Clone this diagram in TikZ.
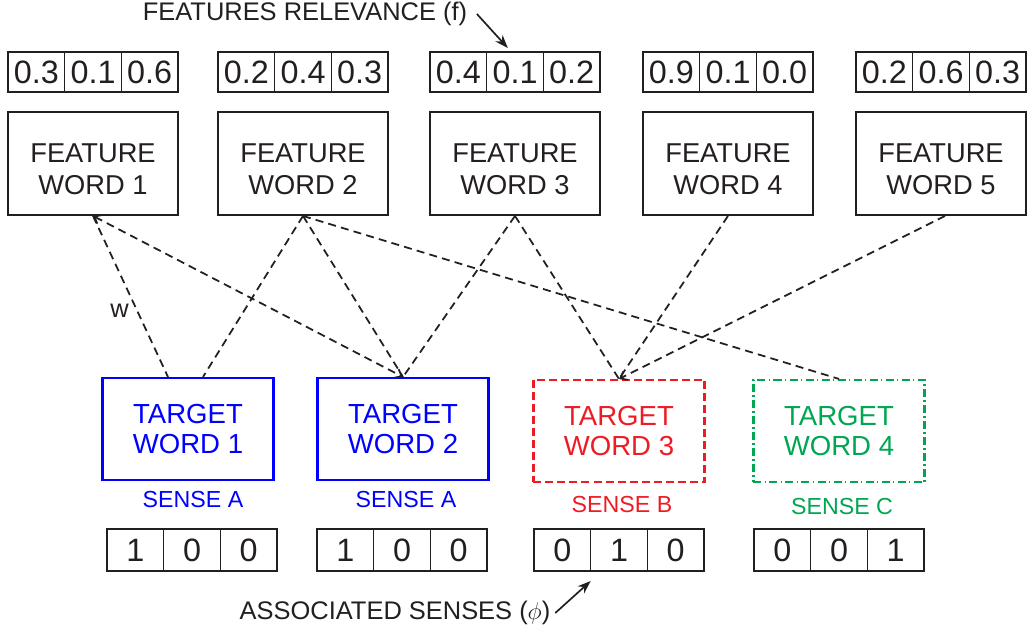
\documentclass[tikz,border=0pt]{standalone}
\usepackage{fontspec}
\setmainfont{Liberation Sans}
\usetikzlibrary{positioning,arrows.meta}
\definecolor{ink}{RGB}{35,31,32}
\definecolor{senseA}{RGB}{0,0,255}
\definecolor{senseB}{RGB}{237,28,36}
\definecolor{senseC}{RGB}{0,166,81}
\tikzset{
  wordbox/.style={draw=ink,line width=1.3pt,minimum width=4.25cm,minimum height=2.575cm,inner sep=0pt},
  wordtext/.style={text=ink,align=center,font=\fontsize{19.4}{22.5}\selectfont},
  targetbox/.style={draw,line width=1.5pt,minimum width=4.275cm,minimum height=2.55cm,inner sep=0pt,align=center,font=\fontsize{19.6}{21.8}\selectfont},
  cell/.style={draw=ink,text=ink,line width=1pt,minimum width=1.4167cm,minimum height=1cm,inner sep=0pt,outer sep=0pt,font=\fontsize{23}{25}\selectfont},
  bit/.style={cell,minimum height=1.05cm},
  sense/.style={font=\fontsize{16.5}{18}\selectfont},
  caption/.style={text=ink,font=\fontsize{18.1}{20}\selectfont},
  link/.style={ink,line width=1.25pt,dash pattern=on 0.2cm off 0.13cm},
  pointer/.style={ink,line width=1.2pt,-{Stealth[length=0.33cm,width=0.24cm]}},
  >={Straight Barb[length=0.15cm,width=0.24cm]}
}
\begin{document}
\begin{tikzpicture}[x=0.025cm,y=-0.025cm]
      \useasboundingbox (0,0) rectangle (1027,634);
      % feature words and their relevance vectors
      \foreach \i/\x in {1/93,2/303,3/515,4/728,5/941}{
        \node[wordbox] (fw\i) at (\x,163.5) {};
        \node[wordtext] (fw\i-t) at ([yshift=-0.14cm]fw\i.center) {FEATURE\\WORD \i};
      }
      \foreach \i/\x/\a/\b/\c in {1/8/0.3/0.1/0.6,2/218/0.2/0.4/0.3,3/430/0.4/0.1/0.2,4/643/0.9/0.1/0.0,5/856/0.2/0.6/0.3}{
        \node[cell,anchor=west] (f\i-1) at (\x,72) {\a};
        \node[cell,right=0pt of f\i-1] (f\i-2) {\b};
        \node[cell,right=0pt of f\i-2] (f\i-3) {\c};
      }
      % target words
      \node[targetbox,senseA] (tw1) at (188,429) {TARGET\\WORD 1};
      \node[targetbox,senseA] (tw2) at (403,429) {TARGET\\WORD 2};
      \node[targetbox,senseB,dash pattern=on 0.2cm off 0.1cm] (tw3) at (619,431) {TARGET\\WORD 3};
      \node[targetbox,senseC,dash pattern=on 0.2cm off 0.08cm on 0.04cm off 0.08cm] (tw4) at (839,431) {TARGET\\WORD 4};
      \node[sense,senseA] (s1) at (193,500) {SENSE A};
      \node[sense,senseA] (s2) at (406,500) {SENSE A};
      \node[sense,senseB] (s3) at (622,505) {SENSE B};
      \node[sense,senseC] (s4) at (842,507) {SENSE C};
      % associated senses
      \foreach \i/\x/\a/\b/\c in {1/107/1/0/0,2/317/1/0/0,3/534/0/1/0,4/754/0/0/1}{
        \node[bit,anchor=west] (b\i-1) at (\x,550) {\a};
        \node[bit,right=0pt of b\i-1] (b\i-2) {\b};
        \node[bit,right=0pt of b\i-2] (b\i-3) {\c};
      }
      % weights
      \draw[link] (fw1.south) -- ([xshift=-0.5cm]tw1.north) node[pos=0.59,left=2pt,caption] (w) {w};
      \draw[link,<->] (fw1.south) -- (tw2.north);
      \draw[link] (fw2.south) -- ([xshift=0.375cm]tw1.north);
      \draw[link] (fw2.south) -- (tw2.north);
      \draw[link] (fw2.south) -- (tw4.north);
      \draw[link] (fw3.south) -- (tw2.north);
      \draw[link] (fw3.south) -- (tw3.north);
      \draw[link] (fw4.south) -- (tw3.north);
      \draw[link,->] ([xshift=0.1cm]fw5.south) -- (tw3.north);
      % captions
      \node[caption] (rel) at (305,14) {FEATURES RELEVANCE (f)};
      \draw[pointer] ([xshift=0.12cm]rel.east) -- ([xshift=-0.18cm,yshift=0.1cm]f3-2.north);
      \node[caption] (assoc) at (395,613) {ASSOCIATED SENSES ($\phi$)};
      \draw[pointer] (assoc.east) -- ([yshift=-0.25cm]b3-1.south east);
\end{tikzpicture}
\end{document}
